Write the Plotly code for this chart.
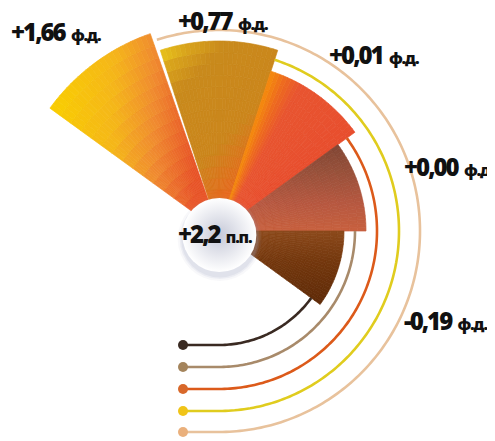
import numpy as np
import plotly.graph_objects as go

# ---------------- data ----------------
categories = ["A", "B", "C", "D", "E"]
value_labels = ["+1,66", "+0,77", "+0,01", "+0,00", "-0,19"]
unit_label = "ф.д."
total_value = "+2,2"
total_unit = "п.п."
bar_length = [209, 190, 168, 147, 125]      # sector lengths
arc_radius = [201, 180, 158, 136, 114]      # leader arc radii
arc_colors = ["#e8c29c", "#e0cc1e", "#dc5a1a", "#a88a6a", "#3a2a22"]
dot_colors = ["#eab07c", "#f0c418", "#d8682a", "#a4845c", "#3a2a22"]

# ---------------- geometry / style ----------------
W, H = 495, 441
OFF = 8                    # page body margin offset
CX, CY = 219 - OFF, 231 - OFF   # chart centre inside the figure (pixels)
RMAX = 210                 # radial range in pixels
SECTOR = 36
START = 144                # first sector's left edge (deg)
LEAD = 36                  # length of horizontal leaders


def px2paper(X, Y):
    return (X - OFF) / W, 1 - (Y - OFF) / H


def hex2rgb(h):
    h = h.lstrip("#")
    return np.array([int(h[i:i + 2], 16) for i in (0, 2, 4)], float)


def grad(stops, u):
    u = float(np.clip(u, 0, 1))
    for (u0, c0), (u1, c1) in zip(stops[:-1], stops[1:]):
        if u <= u1:
            t = 0 if u1 == u0 else (u - u0) / (u1 - u0)
            c = hex2rgb(c0) * (1 - t) + hex2rgb(c1) * t
            return "rgb(%d,%d,%d)" % tuple(np.round(c))
    c = hex2rgb(stops[-1][1])
    return "rgb(%d,%d,%d)" % tuple(c)


# per-sector gradient: (kind, range, stops)
gradients = [
    ("x", (-170, -25), [(0, "#f9cf00"), (0.45, "#f5b61a"), (0.72, "#f08c30"), (1, "#e85428")]),
    ("diag", (-170, -20), [(0, "#eccc1a"), (0.12, "#d9a41c"), (0.28, "#c98a1c"), (0.72, "#cb861c"), (1, "#e66a1e")]),
    ("ang", (72, 36), [(0, "#f58c0c"), (0.14, "#ee6c1e"), (0.3, "#e85530"), (1, "#e84e2e")]),
    ("y", (0, 95), [(0, "#c8613f"), (0.3, "#b65840"), (0.65, "#96503a"), (1, "#7a4232")]),
    ("y", (0, -75), [(0, "#8c4a1c"), (0.4, "#74380e"), (1, "#5e2a08")]),
]

fig = go.Figure()

NT, NR = 24, 14
th_all, r_all, base_all, w_all, col_all = [], [], [], [], []
for i, L in enumerate(bar_length):
    left = START - SECTOR * i
    right = left - SECTOR
    if i == 0:
        right += 1.2            # small white gap between first two sectors
    kind, (a, b), stops = gradients[i]
    edges_t = np.linspace(right, left, NT + 1)
    edges_r = np.linspace(30, L, NR + 1)
    for j in range(NT):
        tc = 0.5 * (edges_t[j] + edges_t[j + 1])
        for k in range(NR):
            rc = 0.5 * (edges_r[k] + edges_r[k + 1])
            x = rc * np.cos(np.radians(tc))
            y = rc * np.sin(np.radians(tc))
            if kind == "x":
                v = x
            elif kind == "y":
                v = y
            elif kind == "ang":
                v = tc
            else:
                v = (x - y) / np.sqrt(2)
            u = (v - a) / (b - a)
            th_all.append(tc)
            r_all.append(edges_r[k + 1] - edges_r[k])
            base_all.append(edges_r[k])
            w_all.append(edges_t[j + 1] - edges_t[j])
            col_all.append(grad(stops, u))

fig.add_trace(go.Barpolar(
    theta=th_all, r=r_all, base=base_all, width=w_all,
    marker=dict(color=col_all, line=dict(color=col_all, width=0.7)),
    hoverinfo="skip", showlegend=False,
))

# leader arcs + horizontal lines + dots
for i, R in enumerate(arc_radius):
    start = START - SECTOR * (i + 1)
    th = list(np.arange(start, -90, -1.0)) + [-90.0]
    rr = [R] * len(th)
    xs = np.linspace(0, -LEAD, 10)[1:]
    for xv in xs:
        rr.append(float(np.hypot(xv, R)))
        th.append(float(np.degrees(np.arctan2(-R, xv))))
    fig.add_trace(go.Scatterpolar(
        r=rr, theta=th, mode="lines",
        line=dict(color=arc_colors[i], width=2.6),
        hoverinfo="skip", showlegend=False,
    ))
    fig.add_trace(go.Scatterpolar(
        r=[rr[-1]], theta=[th[-1]], mode="markers",
        marker=dict(color=dot_colors[i], size=10),
        hoverinfo="skip", showlegend=False,
    ))

# centre sphere (with soft shadow)
for s, a in [(84, 0.08), (80, 0.12), (77, 0.16)]:
    fig.add_trace(go.Scatterpolar(
        r=[8], theta=[-85], mode="markers",
        marker=dict(size=s, color=f"rgba(160,165,195,{a})"),
        hoverinfo="skip", showlegend=False,
    ))
fig.add_trace(go.Scatterpolar(
    r=[4], theta=[-85], mode="markers",
    marker=dict(size=74, color="#ffffff",
                gradient=dict(type="radial", color="#c6c9d8"),
                line=dict(width=0)),
    hoverinfo="skip", showlegend=False,
))

FONT = "Noto Sans, DejaVu Sans, sans-serif"


def label(num, unit):
    return (f"<span style='letter-spacing:-2px'>{num}</span> "
            f"<span style='font-size:16px;letter-spacing:-1.2px'>{unit}</span>")


label_left = [(9, 32), (176, 21), (327, 54), (402, 167), (402, 320)]
for (px, py), v in zip(label_left, value_labels):
    xp, yp = px2paper(px, py)
    fig.add_annotation(
        x=xp, y=yp, xref="paper", yref="paper",
        text=label(v, unit_label),
        showarrow=False, xanchor="left", yanchor="middle",
        font=dict(family=FONT, size=24, color="#111111", weight=900),
    )
xp, yp = px2paper(176, 233)
fig.add_annotation(
    x=xp, y=yp, xref="paper", yref="paper",
    text=label(total_value, total_unit),
    showarrow=False, xanchor="left", yanchor="middle",
    font=dict(family=FONT, size=24, color="#111111", weight=900),
)

fig.update_layout(
    width=W, height=H, margin=dict(l=0, r=0, t=0, b=0),
    paper_bgcolor="white", plot_bgcolor="white", showlegend=False,
    polar=dict(
        domain=dict(x=[(CX - RMAX) / W, (CX + RMAX) / W],
                    y=[(H - CY - RMAX) / H, (H - CY + RMAX) / H]),
        bgcolor="rgba(0,0,0,0)",
        radialaxis=dict(range=[0, RMAX], visible=False),
        angularaxis=dict(visible=False, rotation=0, direction="counterclockwise"),
        bargap=0,
    ),
)

fig.write_html("out.html")
